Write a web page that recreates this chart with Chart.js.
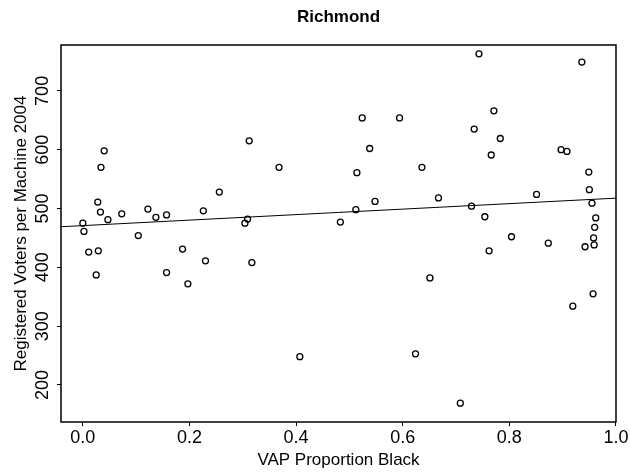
<!DOCTYPE html>
<html>
<head>
<meta charset="utf-8">
<script src="https://cdn.jsdelivr.net/npm/chart.js@4/dist/chart.umd.min.js"></script>
<style>
    body { margin: 0; background: #fff; }
    #box { width: 630px; height: 476px; }
</style>
</head>
<body>
<div id="box"><canvas id="myChart" width="630" height="476"></canvas></div>
<script>
// voting age population share black vs registered voters per machine, by precinct
const propBlack = [
    0.000, 0.002, 0.011, 0.025, 0.028, 0.029, 0.033, 0.034, 0.040, 0.047,
    0.073, 0.104, 0.122, 0.137, 0.157, 0.157, 0.187, 0.197, 0.226, 0.230,
    0.256, 0.304, 0.309, 0.312, 0.317, 0.368, 0.407, 0.483, 0.512, 0.514,
    0.524, 0.538, 0.548, 0.594, 0.624, 0.636, 0.651, 0.667, 0.708, 0.729,
    0.734, 0.743, 0.754, 0.762, 0.766, 0.771, 0.783, 0.804, 0.851, 0.873,
    0.897, 0.908, 0.919, 0.936, 0.942, 0.949, 0.950, 0.955, 0.957, 0.958,
    0.959, 0.960, 0.962
];
const votersPerMachine = [
    475, 461, 426, 387, 511, 428, 494, 570, 598, 481,
    491, 454, 499, 485, 489, 391, 431, 372, 496, 411,
    528, 475, 482, 615, 408, 570, 248, 477, 498, 561,
    654, 602, 512, 654, 253, 570, 382, 518, 169, 504,
    635, 763, 486, 428, 591, 666, 619, 452, 524, 441,
    600, 597, 334, 749, 435, 562, 532, 509, 355, 450,
    438, 468, 484
];

// fitted line, end points at the plot edges
const fitX = [-0.041, 1.0];
const fitY = [469, 517.6];

const xTicks = [0, 0.2, 0.4, 0.6, 0.8, 1.0];
const yTicks = [200, 300, 400, 500, 600, 700];

// draws the full box around the plot region
const frame = {
    id: 'frame',
    afterDraw: function (chart) {
        const a = chart.chartArea;
        const c = chart.ctx;
        c.save();
        c.strokeStyle = '#000';
        c.lineWidth = 1.5;
        c.strokeRect(a.left, a.top, a.right - a.left, a.bottom - a.top);
        c.restore();
    }
};

function createGraph() {
    const ctx = document.getElementById('myChart');
    const pts = propBlack.map(function (x, i) {
        return { x: x, y: votersPerMachine[i] };
    });
    const line = fitX.map(function (x, i) {
        return { x: x, y: fitY[i] };
    });

    new Chart(ctx, {
        type: 'scatter',
        data: {
            datasets: [{
                data: pts,
                pointStyle: 'circle',
                pointRadius: 3,
                borderColor: '#000',
                borderWidth: 1.3,
                backgroundColor: 'rgba(0,0,0,0)'
            }, {
                data: line,
                showLine: true,
                pointRadius: 0,
                borderColor: '#000',
                borderWidth: 1
            }]
        },
        options: {
            responsive: false,
            animation: false,
            layout: { padding: { top: 0, left: 0, right: 13, bottom: 0 } },
            plugins: {
                legend: { display: false },
                tooltip: { enabled: false },
                title: {
                    display: true,
                    fullSize: false,
                    text: 'Richmond',
                    color: '#000',
                    font: { family: 'Liberation Sans', size: 17, weight: 'bold' },
                    padding: { top: 7, bottom: 17.6 }
                }
            },
            scales: {
                x: {
                    type: 'linear',
                    min: -0.041,
                    max: 1.0,
                    afterBuildTicks: function (scale) {
                        scale.ticks = xTicks.map(function (v) { return { value: v }; });
                    },
                    afterFit: function (scale) { scale.height = 54; },
                    grid: { drawOnChartArea: false, tickLength: 4, color: '#000' },
                    border: { display: false },
                    ticks: {
                        color: '#000',
                        padding: 1.5,
                        maxRotation: 0,
                        font: { family: 'Liberation Sans', size: 18 },
                        callback: function (v) { return v.toFixed(1); }
                    },
                    title: {
                        display: true,
                        text: 'VAP Proportion Black',
                        color: '#000',
                        font: { family: 'Liberation Sans', size: 17 },
                        padding: { top: 0, bottom: 5.8 }
                    }
                },
                y: {
                    type: 'linear',
                    min: 137,
                    max: 778,
                    afterBuildTicks: function (scale) {
                        scale.ticks = yTicks.map(function (v) { return { value: v }; });
                    },
                    afterFit: function (scale) { scale.width = 61; },
                    grid: { drawOnChartArea: false, tickLength: 4, color: '#000' },
                    border: { display: false },
                    ticks: {
                        color: '#000',
                        padding: -1.5,
                        crossAlign: 'center',
                        minRotation: 90,
                        maxRotation: 90,
                        font: { family: 'Liberation Sans', size: 18 }
                    },
                    title: {
                        display: true,
                        text: 'Registered Voters per Machine 2004',
                        color: '#000',
                        font: { family: 'Liberation Sans', size: 17 },
                        padding: { top: 10.8, bottom: 0 }
                    }
                }
            }
        },
        plugins: [frame]
    });
}

createGraph();
</script>
</body>
</html>
